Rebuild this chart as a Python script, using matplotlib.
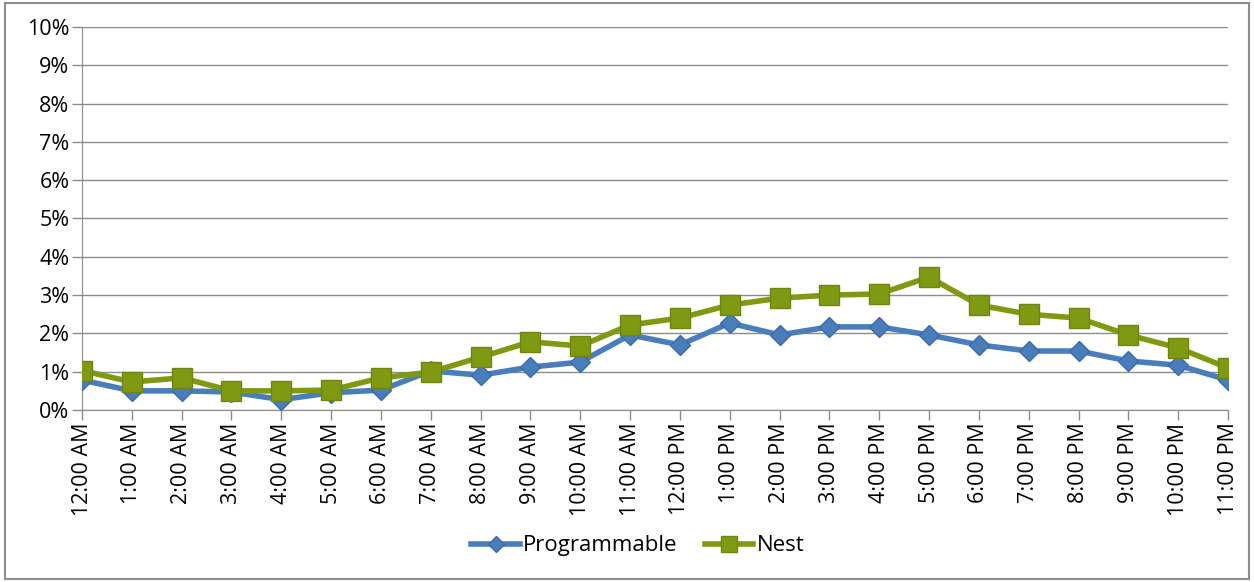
import matplotlib.pyplot as plt
import numpy as np

plt.rcParams['font.family'] = ['Open Sans', 'DejaVu Sans']

# Horas del dia
horas = ["12:00 AM", "1:00 AM", "2:00 AM", "3:00 AM", "4:00 AM", "5:00 AM",
         "6:00 AM", "7:00 AM", "8:00 AM", "9:00 AM", "10:00 AM", "11:00 AM",
         "12:00 PM", "1:00 PM", "2:00 PM", "3:00 PM", "4:00 PM", "5:00 PM",
         "6:00 PM", "7:00 PM", "8:00 PM", "9:00 PM", "10:00 PM", "11:00 PM"]

# Porcentajes
programmable = [0.78, 0.50, 0.50, 0.47, 0.27, 0.45, 0.52, 1.02, 0.91, 1.12,
                1.25, 1.96, 1.70, 2.27, 1.96, 2.17, 2.17, 1.96, 1.70, 1.54,
                1.54, 1.28, 1.17, 0.78]
nest = [1.03, 0.73, 0.84, 0.50, 0.50, 0.52, 0.84, 0.99, 1.38, 1.78,
        1.67, 2.22, 2.40, 2.74, 2.92, 3.00, 3.03, 3.47, 2.74, 2.50,
        2.40, 1.96, 1.62, 1.10]

fig = plt.figure(figsize=(12.54, 5.82), dpi=100)
ax = fig.add_axes([82/1254, 1 - 410/582, (1228-82)/1254, (410-27)/582])

x = np.arange(len(horas))
ax.plot(x, programmable, color="#4A7EBB", lw=4, marker="D", ms=10,
        mfc="#4A7EBB", mec="#3A6AAB", label="Programmable", zorder=3)
ax.plot(x, nest, color="#7F9A12", lw=4, marker="s", ms=15,
        mfc="#7F9A12", mec="#6E8510", label="Nest", zorder=4)

ax.set_xlim(0, len(horas) - 1)
ax.set_ylim(0, 10)
ax.set_yticks(np.arange(0, 11, 1))
ax.set_yticklabels([f"{i}%" for i in range(11)], fontsize=15.5)
ax.set_xticks(x)
ax.set_xticklabels(horas, rotation=90, fontsize=15.5)
ax.grid(axis="y", color="#8C8C8C", lw=1)
ax.set_axisbelow(True)
for s in ["top", "right"]:
    ax.spines[s].set_visible(False)
ax.spines["left"].set_color("#8C8C8C")
ax.spines["bottom"].set_color("#8C8C8C")
ax.tick_params(axis="both", color="#8C8C8C", length=7, width=1, pad=2)

ax.legend(loc="center", bbox_to_anchor=(0.485, -0.355), ncol=2, frameon=False,
          fontsize=16, handlelength=2.2, columnspacing=1.2, handletextpad=0.15,
          markerscale=0.8)

# borde exterior
fig.patches.append(plt.Rectangle((0.004, 0.005), 0.992, 0.99, transform=fig.transFigure,
                                 fill=False, edgecolor="#8C8C8C", lw=1.5))

fig.savefig("out.png", dpi=100)
